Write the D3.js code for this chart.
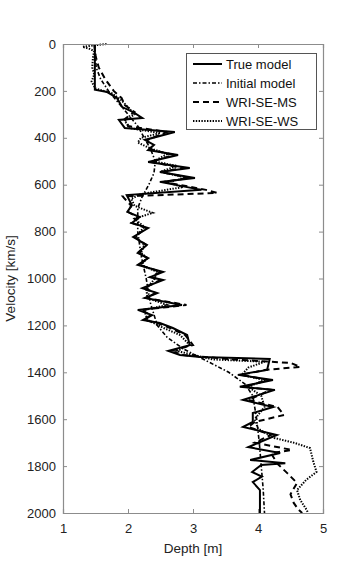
<!DOCTYPE html>
<html><head><meta charset="utf-8">
<script src="https://cdn.jsdelivr.net/npm/d3@7"></script>
<style>body{margin:0;background:#fff}svg{display:block;font-family:"Liberation Sans",Arial,sans-serif}</style>
</head><body><svg id="c" width="360" height="576"></svg>
<script>
const xTicks = [1, 2, 3, 4, 5];
const yTicks = [0, 200, 400, 600, 800, 1000, 1200, 1400, 1600, 1800, 2000];
const seriesNames = ["True model", "Initial model", "WRI-SE-MS", "WRI-SE-WS"];

const trueDepth = [0,195,205,230,269,290,316,324,358,375,409,430,452,473,503,529,546,571,588,622,644,687,716,738,763,785,823,857,891,913,942,972,994,1006,1041,1062,1083,1113,1134,1156,1177,1190,1211,1241,1284,1309,1326,1335,1343,1390,1411,1433,1462,1475,1518,1548,1574,1612,1633,1667,1719,1744,1774,1788,1795,1825,1845,1868,1902,1987,2000];
const trueVel = [1.49,1.49,1.68,1.83,1.91,2.08,2.22,1.86,1.95,2.72,2.26,2.40,2.31,2.77,2.31,2.95,2.49,3.03,2.49,3.13,1.98,2.06,1.99,2.18,2.06,2.31,2.08,2.29,2.15,2.31,2.15,2.54,2.34,2.54,2.22,2.45,2.26,2.83,2.15,2.37,2.23,2.49,2.69,2.91,2.95,2.62,2.80,3.11,4.18,4.14,3.69,4.23,3.72,4.26,3.77,4.23,3.92,3.92,3.77,4.29,3.85,4.34,3.88,4.42,4.05,3.91,4.06,3.92,4.03,4.03,4.03];

const initDepth = [0,100,150,200,250,300,350,400,450,500,550,600,650,700,800,900,1000,1100,1200,1250,1300,1350,1400,1450,1500,1600,1700,1800,1900,2000];
const initVel = [1.49,1.51,1.58,1.70,1.85,2.00,2.15,2.25,2.35,2.42,2.40,2.32,2.22,2.15,2.15,2.20,2.28,2.34,2.45,2.60,2.85,3.20,3.55,3.80,3.92,3.98,4.02,4.05,4.08,4.10];

const msDepth = [0,50,100,150,200,230,260,290,320,350,375,409,450,473,503,529,546,571,588,622,635,650,660,690,716,738,763,785,823,857,891,913,942,972,994,1006,1041,1062,1083,1113,1134,1156,1177,1190,1211,1241,1284,1309,1326,1345,1360,1377,1390,1411,1433,1462,1475,1518,1548,1582,1612,1633,1667,1700,1731,1745,1790,1830,1872,1920,1957,1985,2000];
const msVel = [1.48,1.50,1.55,1.65,1.78,1.90,1.95,2.10,1.95,2.00,2.60,2.30,2.35,2.70,2.35,2.85,2.50,2.95,2.55,3.20,3.37,1.92,1.95,2.05,2.00,2.15,2.05,2.28,2.10,2.28,2.15,2.30,2.18,2.50,2.35,2.50,2.25,2.42,2.28,2.90,2.20,2.35,2.25,2.45,2.65,2.88,3.00,2.65,2.85,3.60,4.50,4.65,4.10,3.75,4.15,3.80,4.20,3.85,4.30,4.40,3.95,3.85,4.20,3.95,4.52,4.20,4.30,4.45,4.60,4.50,4.55,4.62,4.68];

const wsDepth = [0,5,12,20,30,60,100,130,160,190,210,240,270,300,330,360,380,400,420,440,470,500,520,545,570,590,610,640,660,690,720,745,780,823,857,891,913,942,972,1006,1041,1083,1113,1134,1177,1211,1241,1284,1309,1345,1355,1380,1411,1433,1462,1500,1548,1600,1640,1680,1701,1723,1780,1825,1859,1902,1945,1987,2000];
const wsVel = [1.67,1.50,1.30,1.40,1.48,1.46,1.45,1.48,1.44,1.50,1.75,1.90,2.00,2.10,1.95,2.05,2.50,2.20,2.15,2.30,2.60,2.40,2.75,2.50,2.90,2.60,2.85,2.20,2.05,2.10,2.38,2.10,2.25,2.12,2.25,2.20,2.30,2.20,2.45,2.40,2.28,2.30,2.60,2.25,2.30,2.55,2.80,2.95,2.75,3.30,4.10,3.85,3.75,4.10,3.85,4.05,4.10,3.95,4.00,4.25,4.56,4.80,4.85,4.90,4.74,4.60,4.65,4.75,4.77];

const series = [
  {name: seriesNames[0], d: trueDepth, v: trueVel, dash: null, w: 2},
  {name: seriesNames[1], d: initDepth, v: initVel, dash: "4,2,1.5,2", w: 1.6},
  {name: seriesNames[2], d: msDepth, v: msVel, dash: "6,4", w: 2},
  {name: seriesNames[3], d: wsDepth, v: wsVel, dash: "1.4,1.4", w: 2}
];

const svg = d3.select("#c");
const L = 63, R = 323, T = 44, B = 513;
const x = d3.scaleLinear().domain([1, 5]).range([L, R]);
const y = d3.scaleLinear().domain([0, 2000]).range([T, B]);
const axisCol = "#8c8c8c";
const fmt = d3.format("d");

const line = d3.line().x(p => x(p[1])).y(p => y(p[0]));
series.forEach(s => {
  const pts = s.d.map((dd, i) => [dd, s.v[i]]);
  svg.append("path").attr("d", line(pts)).attr("fill", "none")
    .attr("stroke", "#000").attr("stroke-width", s.w)
    .attr("stroke-linejoin", "miter")
    .attr("stroke-dasharray", s.dash);
});

// axes
const gl = svg.append("g").attr("transform", `translate(${L},0)`).call(d3.axisLeft(y).tickValues(yTicks).tickFormat(fmt).tickSize(-4).tickPadding(7));
const gb = svg.append("g").attr("transform", `translate(0,${B})`).call(d3.axisBottom(x).tickValues(xTicks).tickFormat(fmt).tickSize(-4).tickPadding(8));
const gt = svg.append("g").attr("transform", `translate(0,${T})`).call(d3.axisTop(x).tickValues(xTicks).tickSize(-4).tickFormat(""));
const gr = svg.append("g").attr("transform", `translate(${R},0)`).call(d3.axisRight(y).tickValues(yTicks).tickSize(-4).tickFormat(""));
[gl, gb, gt, gr].forEach(g => {
  g.selectAll("path.domain").attr("stroke", axisCol).attr("stroke-width", 1.2);
  g.selectAll(".tick line").attr("stroke", axisCol);
  g.selectAll(".tick text").attr("fill", "#222").style("font-size", "13px").style("font-family", '"Liberation Sans",Arial,sans-serif');
});
gb.selectAll(".tick text").attr("dy", "0.9em");

svg.append("text").attr("x", (L + R) / 2).attr("y", 553).attr("text-anchor", "middle")
  .attr("fill", "#222").style("font-size", "13.5px").text("Depth [m]");
svg.append("text").attr("transform", `translate(15,${(T + B) / 2}) rotate(-90)`).attr("text-anchor", "middle")
  .attr("fill", "#222").style("font-size", "13.5px").text("Velocity [km/s]");

// legend
const lg = svg.append("g");
lg.append("rect").attr("x", 186.5).attr("y", 53.5).attr("width", 130).attr("height", 76)
  .attr("fill", "#fff").attr("stroke", "#555").attr("stroke-width", 1);
series.forEach((s, i) => {
  const yy = 64 + i * 19;
  lg.append("line").attr("x1", 193).attr("x2", 222).attr("y1", yy).attr("y2", yy)
    .attr("stroke", "#000").attr("stroke-width", s.w).attr("stroke-dasharray", s.dash);
  lg.append("text").attr("x", 226).attr("y", yy + 4.5).attr("fill", "#111")
    .style("font-size", "13px").text(s.name);
});
</script></body></html>
